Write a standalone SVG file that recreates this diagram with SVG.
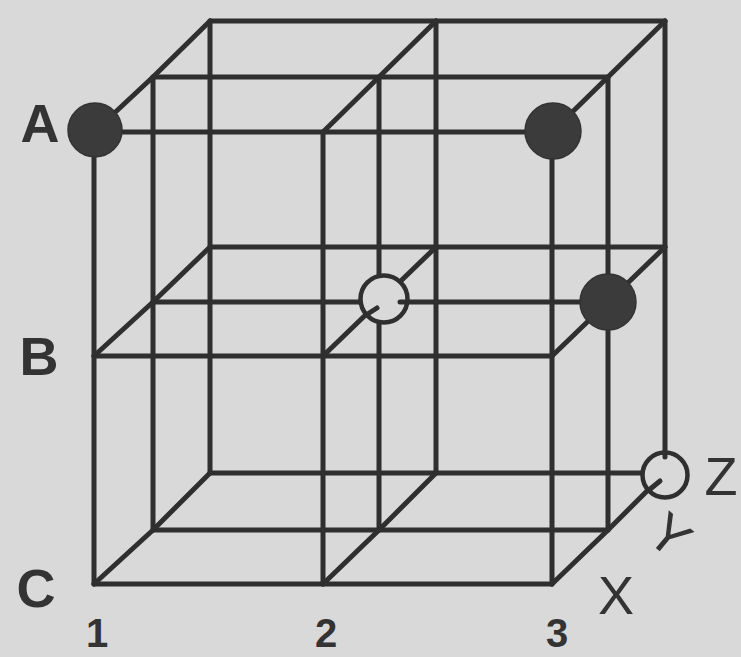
<svg xmlns="http://www.w3.org/2000/svg" width="741" height="657" viewBox="0 0 741 657">
<style>
.ln{fill:none;stroke:#2f2f2f;stroke-width:5;stroke-linecap:round;stroke-linejoin:round}
.ball{fill:#3b3b3b;stroke:#333;stroke-width:1.5}
.hole{fill:#d9d9d9;stroke:#2f2f2f;stroke-width:4.5}
.lb{font-family:"Liberation Sans",Arial,sans-serif;font-weight:bold;font-size:54px;fill:#333;text-anchor:middle}
.num{font-family:"Liberation Sans",Arial,sans-serif;font-weight:bold;font-size:40px;fill:#333;text-anchor:middle}
.ax{font-family:"Liberation Sans",Arial,sans-serif;font-size:54px;fill:#333;text-anchor:middle}
</style>
<rect width="741" height="657" fill="#d9d9d9"/>
<g id="connectors" class="ln">
<path d="M94 132H552M94 356H552M94 584H552"/>
<path d="M153 77H608M153 302H608M153 530H608"/>
<path d="M210 21H665M210 247H665M210 473H665"/>
<path d="M94 132V584M323 132V584M552 132V584"/>
<path d="M153 77V530M379 77V530M608 77V530"/>
<path d="M210 21V473M436 21V473M665 21V473"/>
<path d="M94 132L153 77L210 21M323 132L379 77L436 21M552 132L608 77L665 21"/>
<path d="M94 356L153 302L210 247M323 356L379 302L436 247M552 356L608 302L665 247"/>
<path d="M94 584L153 530L210 473M323 584L379 530L436 473M552 584L608 530L665 473"/>
</g>
<g id="ball-A1"><circle class="ball" cx="95" cy="130" r="27"/></g>
<g id="ball-A3"><circle class="ball" cx="553" cy="131" r="28"/></g>
<g id="ball-B3"><circle class="ball" cx="608" cy="302" r="28"/></g>
<g id="ring-B2">
<circle class="hole" cx="384" cy="299" r="23.5"/>
<path class="ln" d="M366 315L377 308M407 302H400"/>
</g>
<g id="ring-Z">
<circle class="hole" cx="665" cy="475" r="22.5"/>
<path class="ln" d="M649 490L660 481M665 452V457"/>
</g>
<g id="labels">
<text class="lb" x="40" y="142">A</text>
<text class="lb" x="39" y="375">B</text>
<text class="lb" x="36" y="607">C</text>
<text class="num" x="97" y="647">1</text>
<text class="num" x="326" y="647">2</text>
<text class="num" x="557" y="647">3</text>
<text class="ax" x="721" y="495">Z</text>
<text class="ax" x="616" y="614">X</text>
<text class="ax" x="670" y="554" transform="rotate(40 670 535)">Y</text>
</g>
</svg>
